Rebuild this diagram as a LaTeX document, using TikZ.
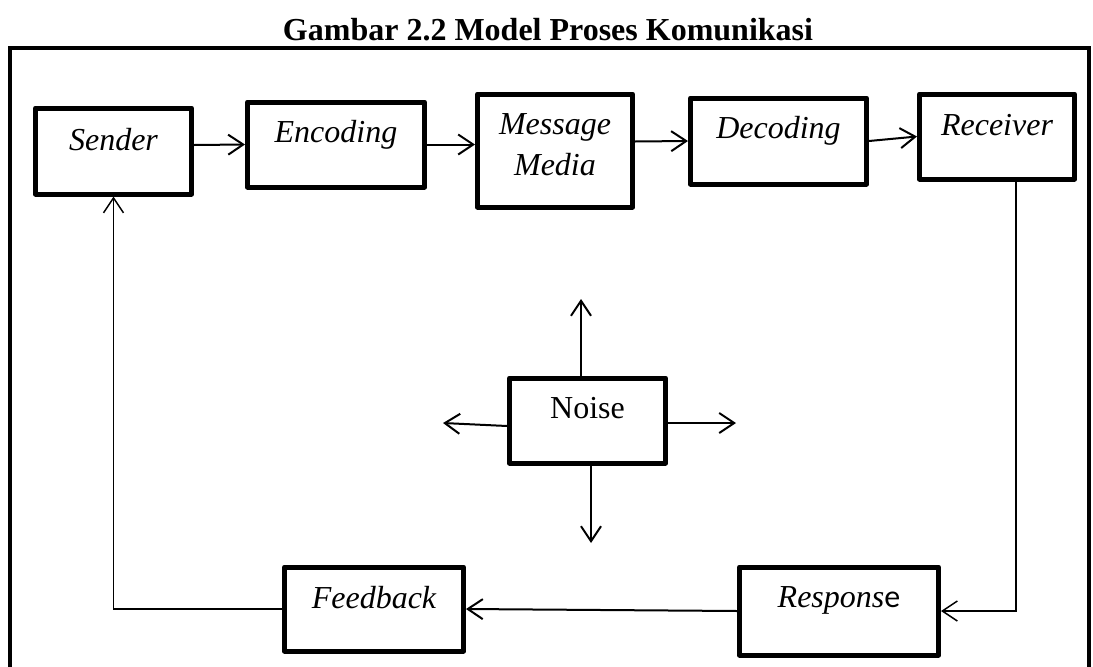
\documentclass[tikz,border=0pt]{standalone}
\usepackage{fontspec}
\setmainfont{Liberation Serif}
\newfontfamily\carlito{Carlito}
\usetikzlibrary{arrows.meta}

\begin{document}
\begin{tikzpicture}[x=1pt, y=-1pt,
  kotak/.style={draw, line width=5pt, line join=round, inner sep=0pt, anchor=north, align=center,
    font=\fontsize{32}{41}\selectfont\itshape},
  panah/.style={-{Straight Barb[length=15pt, width=20pt]}, line width=2pt},
  garis/.style={-{Straight Barb[length=15pt, width=20pt]}, line width=1.5pt}]
  \useasboundingbox (0,0) rectangle (1093,667);

  % Title
  \node[font=\fontsize{32}{38}\selectfont\bfseries] (judul) at (548,30) {Gambar 2.2 Model Proses Komunikasi};
  % Frame
  \draw[line width=3.5pt] (10,667) -- (10,48) -- (1089,48) -- (1089,667);

  % Top row
  \node[kotak, minimum width=156pt, text height=42pt, text depth=44pt] (sender) at (113.5,105.5) {Sender};
  \node[kotak, minimum width=177pt, text height=40pt, text depth=45pt] (encoding) at (336,99.5) {Encoding};
  \node[kotak, minimum width=155pt, text height=81pt, text depth=32pt] (message) at (555,91.5) {Message\\Media};
  \node[kotak, minimum width=176pt, text height=40pt, text depth=46pt] (decoding) at (778.5,95.5) {Decoding};
  \node[kotak, minimum width=155pt, text height=41pt, text depth=44pt] (receiver) at (997,91.5) {Receiver};

  % Noise in the middle
  \node[kotak, minimum width=156pt, text height=40pt, text depth=45pt, font=\fontsize{32}{41}\selectfont] (noise) at (587.5,375.5) {Noise};
  \coordinate (n-atas) at (581,299);
  \coordinate (n-bawah) at (591,543);
  \coordinate (n-kiri) at (443,423);
  \coordinate (n-kanan) at (736,423);

  % Bottom row
  \node[kotak, minimum width=179pt, text height=41pt, text depth=43pt] (feedback) at (374,564.5) {Feedback};
  \node[kotak, minimum width=199pt, text height=40pt, text depth=48pt] (response) at (839,564.5) {Respons{\carlito\upshape e}};

  % Arrows
  \draw[panah] ([yshift=6pt]sender.east) -- (encoding.west);
  \draw[panah] (encoding.east) -- (encoding.east -| message.west);
  \draw[panah] ([yshift=9pt]message.east) -- (decoding.west);
  \draw[panah] (decoding.east) -- (receiver.west);
  \draw[garis] ([xshift=19pt]receiver.south) |- (response.east);
  \draw[panah] (response.west) -- (feedback.east);
  \draw[garis] (feedback.west) -| (sender.south);

  \draw[panah] ([xshift=-6.5pt]noise.north) -- (n-atas);
  \draw[panah] ([xshift=3.5pt]noise.south) -- (n-bawah);
  \draw[panah] ([yshift=-5.5pt]noise.west) -- (n-kiri);
  \draw[panah] ([yshift=-2.5pt]noise.east) -- (n-kanan);
\end{tikzpicture}
\end{document}
